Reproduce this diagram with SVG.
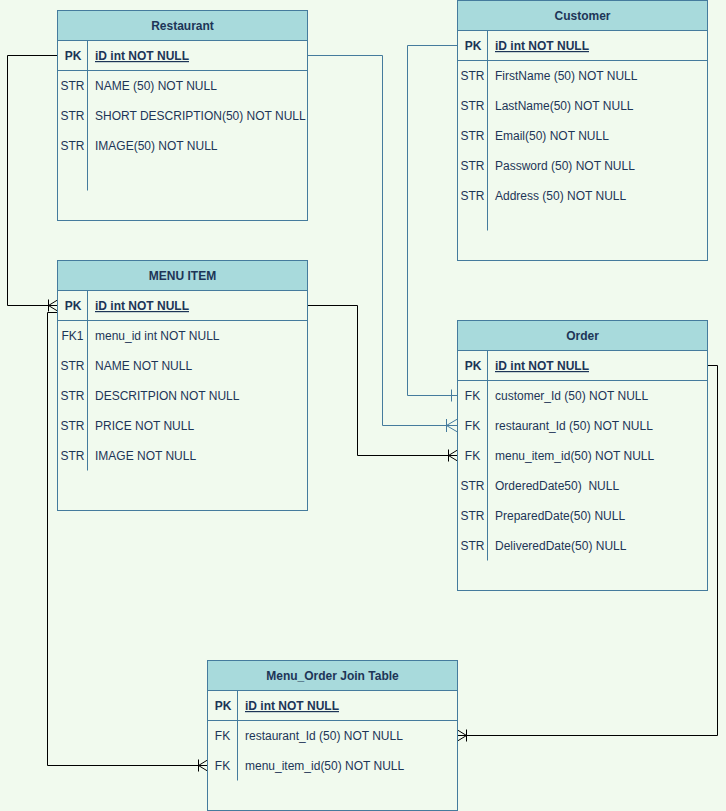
<svg xmlns="http://www.w3.org/2000/svg" width="726" height="811" viewBox="0 0 726 811">
<defs>
<style>
.bg{fill:#f1faee}
.box{fill:#f1faee;stroke:#457b9d;stroke-width:1}
.hdr{fill:#a8dadc;stroke:#457b9d;stroke-width:1}
.ln{stroke:#457b9d;stroke-width:1;fill:none}
text{font-family:"Liberation Sans",Arial,Helvetica,sans-serif;font-size:12px;fill:#1d3557}
.title{font-weight:bold;text-anchor:middle}
.pk{font-weight:bold;text-anchor:middle}
.pkf{font-weight:bold;text-decoration:underline}
.typ{text-anchor:middle}
.cb{stroke:#000;stroke-width:1;fill:none}
.cu{stroke:#457b9d;stroke-width:1;fill:none}
</style>
<marker id="manyK" markerUnits="userSpaceOnUse" markerWidth="14" markerHeight="16" viewBox="-12 -8 14 16" refX="0" refY="0" orient="auto" overflow="visible">
<path d="M-9,-6V6M-9,0L0,-5.5M-9,0L0,5.5M-9,0H0" stroke="#000" stroke-width="1" fill="none"/>
</marker>
<marker id="manyB" markerUnits="userSpaceOnUse" markerWidth="14" markerHeight="16" viewBox="-12 -8 14 16" refX="0" refY="0" orient="auto" overflow="visible">
<path d="M-11,-6.5V6.5M-11,0L0,-6.5M-11,0L0,6.5M-11,0H0" stroke="#457b9d" stroke-width="1" fill="none"/>
</marker>
<marker id="oneB" markerUnits="userSpaceOnUse" markerWidth="14" markerHeight="16" viewBox="-12 -8 14 16" refX="0" refY="0" orient="auto" overflow="visible">
<path d="M-6,-6V6" stroke="#457b9d" stroke-width="1" fill="none"/>
</marker>
</defs>
<rect class="bg" x="0" y="0" width="726" height="811"/>

<g id="connectors">
<path class="cb" d="M57.5,55.5H7.5V305.5H57.5" marker-end="url(#manyK)"/>
<path class="cb" d="M57.5,312.5H47.5V765.5H207.5" marker-end="url(#manyK)"/>
<path class="cu" d="M307.5,55.5H382.5V425.5H457.5" marker-end="url(#manyB)"/>
<path class="cu" d="M457.5,45.5H407.5V395.5H457.5" marker-end="url(#oneB)"/>
<path class="cb" d="M307.5,305.5H357.5V455.5H457.5" marker-end="url(#manyK)"/>
<path class="cb" d="M707.5,365.5H717.5V735.5H457.5" marker-end="url(#manyK)"/>
</g>

<g id="restaurant">
<rect class="box" x="57.5" y="10.5" width="250" height="210"/>
<rect class="hdr" x="57.5" y="10.5" width="250" height="30"/>
<text class="title" x="182.5" y="30">Restaurant</text>
<path class="ln" d="M57.5,70.5H307.5M87.5,40.5V190.5"/>
<text class="pk" x="73" y="60">PK</text>
<text class="pkf" x="95" y="60">iD int NOT NULL</text>
<text class="typ" x="72.5" y="90">STR</text><text x="95" y="90">NAME (50) NOT NULL</text>
<text class="typ" x="72.5" y="120">STR</text><text x="95" y="120">SHORT DESCRIPTION(50) NOT NULL</text>
<text class="typ" x="72.5" y="150">STR</text><text x="95" y="150">IMAGE(50) NOT NULL</text>
</g>

<g id="menu-item">
<rect class="box" x="57.5" y="260.5" width="250" height="250"/>
<rect class="hdr" x="57.5" y="260.5" width="250" height="30"/>
<text class="title" x="182.5" y="280">MENU ITEM</text>
<path class="ln" d="M57.5,320.5H307.5M87.5,290.5V470.5"/>
<text class="pk" x="73" y="310">PK</text>
<text class="pkf" x="95" y="310">iD int NOT NULL</text>
<text class="typ" x="72.5" y="340">FK1</text><text x="95" y="340">menu_id int NOT NULL</text>
<text class="typ" x="72.5" y="370">STR</text><text x="95" y="370">NAME NOT NULL</text>
<text class="typ" x="72.5" y="400">STR</text><text x="95" y="400">DESCRITPION NOT NULL</text>
<text class="typ" x="72.5" y="430">STR</text><text x="95" y="430">PRICE NOT NULL</text>
<text class="typ" x="72.5" y="460">STR</text><text x="95" y="460">IMAGE NOT NULL</text>
</g>

<g id="customer">
<rect class="box" x="457.5" y="0.5" width="250" height="260"/>
<rect class="hdr" x="457.5" y="0.5" width="250" height="30"/>
<text class="title" x="582.5" y="20">Customer</text>
<path class="ln" d="M457.5,60.5H707.5M487.5,30.5V230.5"/>
<text class="pk" x="473" y="50">PK</text>
<text class="pkf" x="495" y="50">iD int NOT NULL</text>
<text class="typ" x="472.5" y="80">STR</text><text x="495" y="80">FirstName (50) NOT NULL</text>
<text class="typ" x="472.5" y="110">STR</text><text x="495" y="110">LastName(50) NOT NULL</text>
<text class="typ" x="472.5" y="140">STR</text><text x="495" y="140">Email(50) NOT NULL</text>
<text class="typ" x="472.5" y="170">STR</text><text x="495" y="170">Password (50) NOT NULL</text>
<text class="typ" x="472.5" y="200">STR</text><text x="495" y="200">Address (50) NOT NULL</text>
</g>

<g id="order">
<rect class="box" x="457.5" y="320.5" width="250" height="270"/>
<rect class="hdr" x="457.5" y="320.5" width="250" height="30"/>
<text class="title" x="582.5" y="340">Order</text>
<path class="ln" d="M457.5,380.5H707.5M487.5,350.5V560.5"/>
<text class="pk" x="473" y="370">PK</text>
<text class="pkf" x="495" y="370">iD int NOT NULL</text>
<text class="typ" x="472.5" y="400">FK</text><text x="495" y="400">customer_Id (50) NOT NULL</text>
<text class="typ" x="472.5" y="430">FK</text><text x="495" y="430">restaurant_Id (50) NOT NULL</text>
<text class="typ" x="472.5" y="460">FK</text><text x="495" y="460">menu_item_id(50) NOT NULL</text>
<text class="typ" x="472.5" y="490">STR</text><text x="495" y="490" xml:space="preserve">OrderedDate50)  NULL</text>
<text class="typ" x="472.5" y="520">STR</text><text x="495" y="520">PreparedDate(50) NULL</text>
<text class="typ" x="472.5" y="550">STR</text><text x="495" y="550">DeliveredDate(50) NULL</text>
</g>

<g id="menu-order-join">
<rect class="box" x="207.5" y="660.5" width="250" height="150"/>
<rect class="hdr" x="207.5" y="660.5" width="250" height="30"/>
<text class="title" x="332.5" y="680">Menu_Order Join Table</text>
<path class="ln" d="M207.5,720.5H457.5M237.5,690.5V780.5"/>
<text class="pk" x="223" y="710">PK</text>
<text class="pkf" x="245" y="710">iD int NOT NULL</text>
<text class="typ" x="222.5" y="740">FK</text><text x="245" y="740">restaurant_Id (50) NOT NULL</text>
<text class="typ" x="222.5" y="770">FK</text><text x="245" y="770">menu_item_id(50) NOT NULL</text>
</g>
</svg>
